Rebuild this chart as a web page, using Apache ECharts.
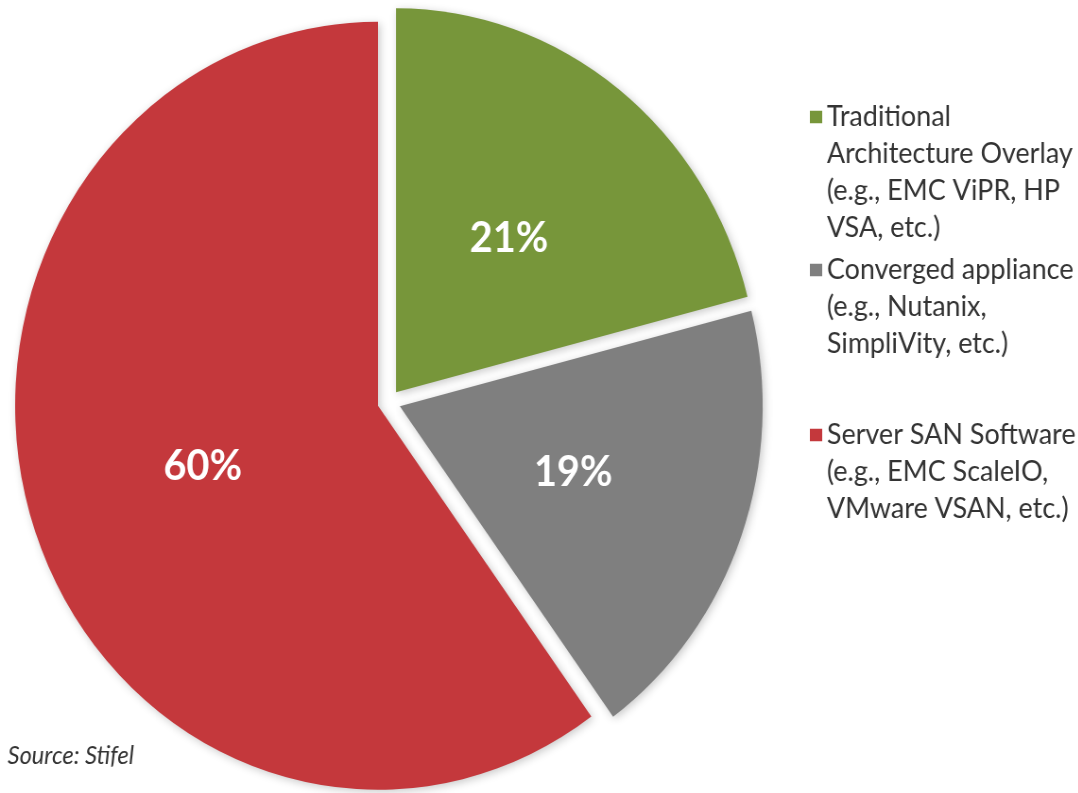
<!DOCTYPE html>
<html><head><meta charset="utf-8">
<script src="https://cdn.jsdelivr.net/npm/echarts@6/dist/echarts.min.js"></script>
<style>
html,body{margin:0;padding:0;background:#fff;overflow:hidden}
#wrap{width:1078px;height:793px;overflow:hidden;position:relative}
#chart{width:1141px;height:793px;transform:scaleX(0.945);transform-origin:0 0}
</style></head>
<body><div id="wrap"><div id="chart"></div></div>
<script>
// ---- data ----
const categories = [
  'Traditional Architecture Overlay (e.g., EMC ViPR, HP VSA, etc.)',
  'Converged appliance (e.g., Nutanix, SimpliVity, etc.)',
  'Server SAN Software (e.g., EMC ScaleIO, VMware VSAN, etc.)'
];
const values = [21, 19, 60];
const legendLines = [
  ['Traditional', 'Architecture Overlay', '(e.g., EMC ViPR, HP', 'VSA, etc.)'],
  ['Converged appliance', '(e.g., Nutanix,', 'SimpliVity, etc.)'],
  ['Server SAN Software', '(e.g., EMC ScaleIO,', 'VMware VSAN, etc.)']
];
const sourceNote = 'Source: Stifel';

// ---- styles ----
const colors = ['#77963a', '#7f7f7f', '#c4383c'];
const lineH = 37;
const legendTops = [98.5, 251.5, 416.5];

function iconPath(n) {
  const h = n * lineH, c = lineH / 2;
  return 'path://M0,0h0.01v0.01h-0.01z M0,' + (c - 6.25) + 'h13v12.5h-13z M12.99,' + (h - 0.01) + 'h0.01v0.01h-0.01z';
}

const chart = echarts.init(document.getElementById('chart'), null, {renderer: 'canvas'});
chart.setOption({
  animation: false,
  backgroundColor: '#ffffff',
  title: {
    text: sourceNote, left: 8, top: 743, padding: 0,
    textStyle: {fontFamily: 'Lato', fontStyle: 'italic', fontWeight: 'normal', fontSize: 25, color: '#333333'}
  },
  legend: categories.map((name, i) => ({
    data: [name], orient: 'vertical', left: 857, top: legendTops[i], padding: 0,
    itemWidth: 13, itemHeight: legendLines[i].length * lineH,
    icon: iconPath(legendLines[i].length),
    selectedMode: false,
    formatter: () => legendLines[i].join('\n'),
    textStyle: {fontFamily: 'Lato', fontSize: 28.5, lineHeight: lineH, color: '#333333'},
    itemStyle: {borderWidth: 0, shadowBlur: 0, shadowColor: 'transparent'}
  })),
  series: [{
    type: 'pie',
    center: [411.6, 402],
    radius: [0, 384],
    startAngle: 90,
    clockwise: true,
    selectedMode: 'multiple',
    selectedOffset: 12.2,
    avoidLabelOverlap: false,
    emphasis: {disabled: true},
    label: {
      show: true, position: 'inside', formatter: '{c}%',
      color: '#ffffff', fontFamily: 'Lato', fontWeight: 'bold', fontSize: 42,
      textBorderWidth: 0
    },
    labelLine: {show: false},
    itemStyle: {shadowBlur: 8, shadowColor: 'rgba(0,0,0,0.22)', shadowOffsetX: 2, shadowOffsetY: 2},
    data: categories.map((n, i) => ({name: n, value: values[i], selected: true, itemStyle: {color: colors[i]}}))
  }]
});
</script>
</body></html>
